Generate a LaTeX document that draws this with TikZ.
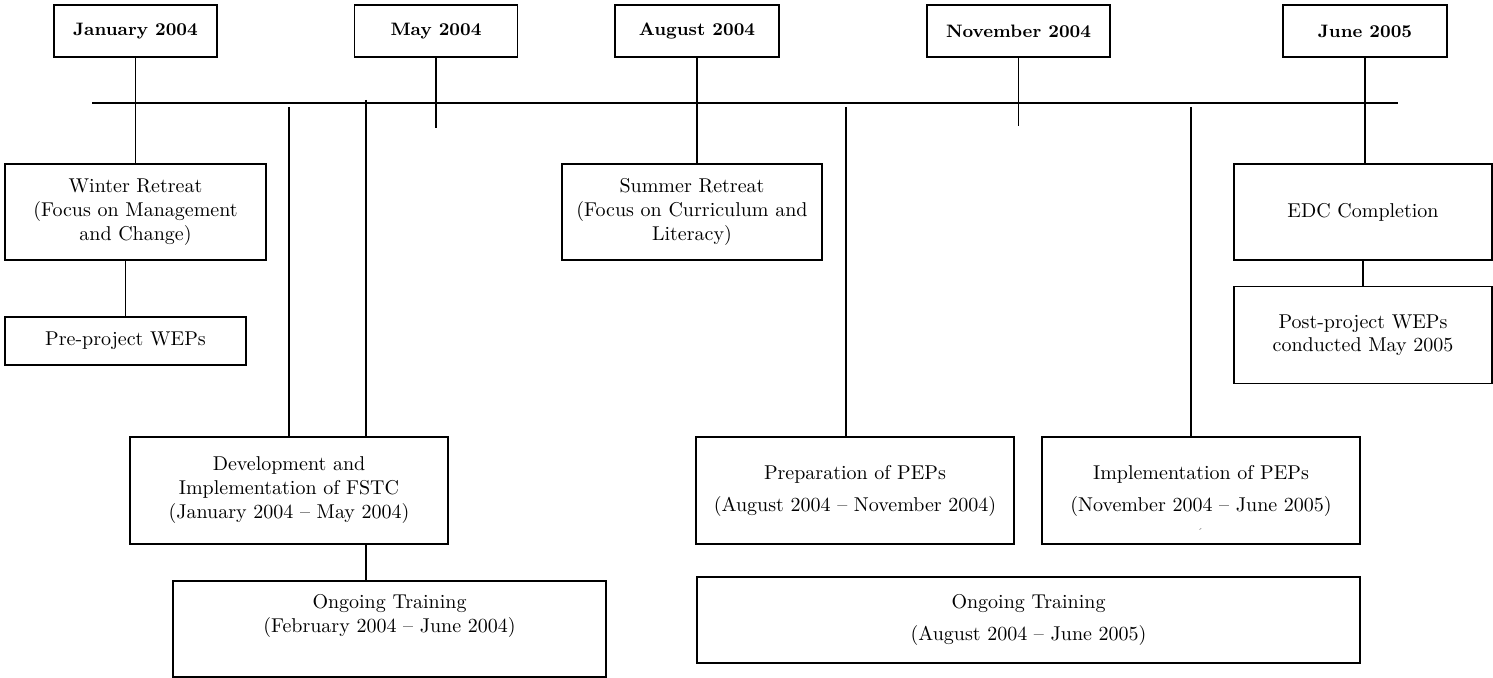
\documentclass[tikz,border=0pt]{standalone}
\usepackage{tikz}
\usetikzlibrary{positioning}

\begin{document}
\begin{tikzpicture}[x=0.5pt, y=-0.5pt,
    line width=0.8pt,
    box/.style={draw, line width=0.8pt, align=center, inner sep=0pt,
        font=\fontsize{10}{12}\selectfont},
    widebox/.style={box, font=\fontsize{10}{16}\selectfont},
    datebox/.style={box, minimum height=26pt, font=\bfseries\fontsize{9}{11}\selectfont},
    stray/.style={inner sep=0pt, text=gray, font=\tiny}]
            \useasboundingbox (0,0) rectangle (1493,678);

            % dates along the top
            \node[datebox, minimum width=81.5pt] (jan) at (135.5,31) {January 2004};
            \node[datebox, minimum width=81.5pt] (may) at (436,31) {May 2004};
            \node[datebox, minimum width=82pt] (aug) at (697,31) {August 2004};
            \node[datebox, minimum width=91.5pt] (nov) at (1018.5,31) {November 2004};
            \node[datebox, minimum width=82pt] (jun) at (1365,31) {June 2005};

            % time line
            \coordinate (tl-w) at (92,103);
            \coordinate (tl-e) at (1398,103);
            \draw (tl-w) -- (tl-e);

            % events
            \node[box, minimum width=130.5pt, minimum height=48pt] (winter) at (135.5,212)
                {Winter Retreat\\(Focus on Management\\and Change)};
            \node[box, minimum width=120.5pt, minimum height=24pt] (preweps) at (125.5,341)
                {Pre-project WEPs};
            \node[box, minimum width=130pt, minimum height=48pt] (summer) at (692,212)
                {Summer Retreat\\(Focus on Curriculum and\\Literacy)};
            \node[box, minimum width=129pt, minimum height=48pt] (edc) at (1363,212)
                {EDC Completion};
            \node[box, minimum width=129pt, minimum height=48.5pt, font=\fontsize{10}{11.5}\selectfont] (postweps) at (1363,335)
                {Post-project WEPs\\conducted May 2005};

            % periods
            \node[box, minimum width=159pt, minimum height=53.5pt] (devfstc) at (289,490.5)
                {Development and\\Implementation of FSTC\\(January 2004 -- May 2004)};
            \node[box, minimum width=216.5pt, minimum height=48pt] (trainA) at (389.5,629)
                {Ongoing Training\\(February 2004 -- June 2004)\\\strut};
            \node[widebox, minimum width=159pt, minimum height=53.5pt] (prep) at (855,490.5)
                {Preparation of PEPs\\(August 2004 -- November 2004)};
            \node[widebox, minimum width=159pt, minimum height=53.5pt] (impl) at (1201,490.5)
                {Implementation of PEPs\\(November 2004 -- June 2005)};
            \node[stray] (impl-mark) at (1200,532) {\textasciiacute};
            \node[widebox, minimum width=331.5pt, minimum height=43pt] (trainB) at (1028.5,620)
                {Ongoing Training\\(August 2004 -- June 2005)};

            % stems from the dates
            \coordinate (may-end) at (436,128);
            \coordinate (nov-end) at (1018.5,126);
            \draw (jan.south) -- (winter.north);
            \draw (may.south) -- (may-end);
            \draw (aug.south) -- (aug.south |- summer.north);
            \draw (nov.south) -- (nov-end);
            \draw (jun.south) -- (jun.south |- edc.north);

            % drops from the time line
            \coordinate (dev-l) at (289,107);
            \coordinate (dev-r) at (366,100);
            \coordinate (prep-t) at (846,107);
            \coordinate (impl-t) at (1191,107);
            \draw (dev-l) -- (dev-l |- devfstc.north);
            \draw (dev-r) -- (dev-r |- devfstc.north);
            \draw (prep-t) -- (prep-t |- prep.north);
            \draw (impl-t) -- (impl-t |- impl.north);

            % links between boxes
            \draw (preweps.north |- winter.south) -- (preweps.north);
            \draw (edc.south) -- (postweps.north);
            \draw (dev-r |- devfstc.south) -- (dev-r |- trainA.north);
          \end{tikzpicture}
\end{document}
